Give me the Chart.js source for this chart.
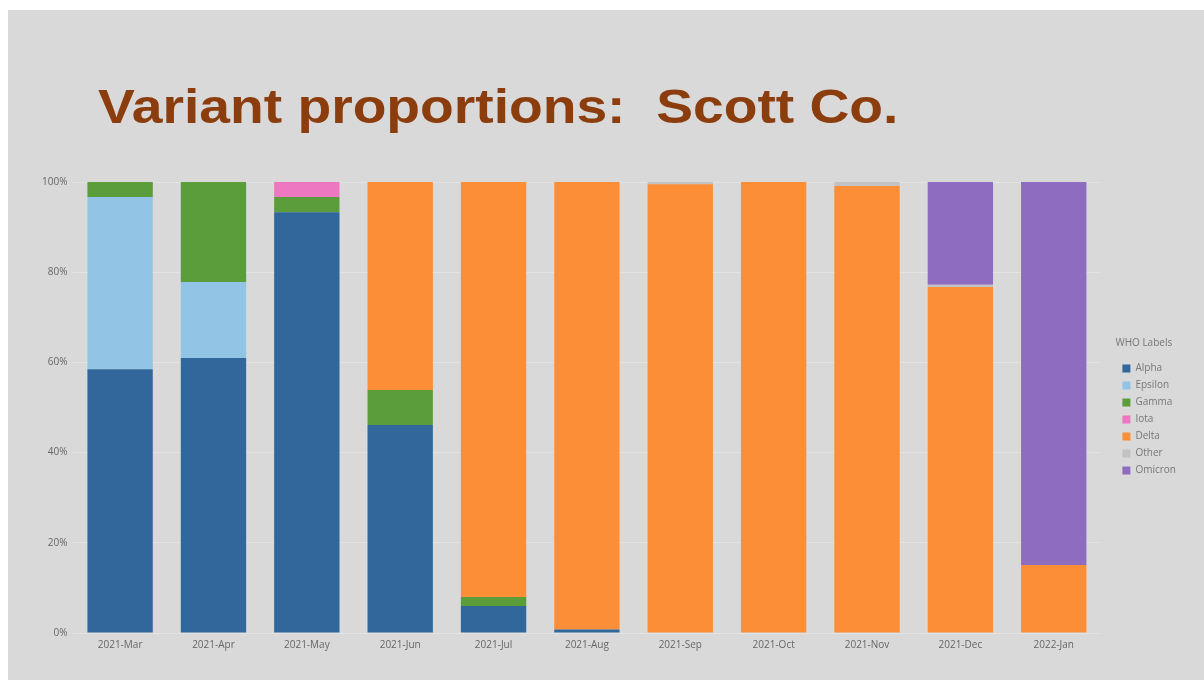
<!DOCTYPE html>
<html>
<head>
<meta charset="utf-8">
<script src="https://cdn.jsdelivr.net/npm/chart.js@4.4.1/dist/chart.umd.min.js"></script>
<style>
  html, body { margin: 0; padding: 0; background: #fff; }
  #slide { position: absolute; left: 8px; top: 10px; width: 1196px; height: 670px; background: #d9d9d9; }
  #titulo {
    position: absolute; left: 98px; top: 79px;
    font: bold 48px "Liberation Sans", Arial, sans-serif;
    color: #8b3d0d; white-space: pre;
    transform: scaleX(1.15); transform-origin: left top;
  }
  #wrap { position: absolute; left: 0; top: 0; width: 1204px; height: 680px; }
</style>
</head>
<body>
<div id="slide"></div>
<div id="titulo">Variant proportions:  Scott Co.</div>
<div id="wrap"><canvas id="grafico"></canvas></div>
<script>
// Meses
const meses = ['2021-Mar', '2021-Apr', '2021-May', '2021-Jun', '2021-Jul', '2021-Aug',
               '2021-Sep', '2021-Oct', '2021-Nov', '2021-Dec', '2022-Jan'];

// Proporções (%) por variante
const alpha   = [58.5, 61.0, 93.3, 46.1, 6.0, 0.8, 0, 0, 0, 0, 0];
const epsilon = [38.2, 16.8, 0, 0, 0, 0, 0, 0, 0, 0, 0];
const gamma   = [3.3, 22.2, 3.4, 7.8, 2.0, 0, 0, 0, 0, 0, 0];
const iota    = [0, 0, 3.3, 0, 0, 0, 0, 0, 0, 0, 0];
const delta   = [0, 0, 0, 46.1, 92.0, 99.2, 99.5, 100, 99.1, 76.7, 15.1];
const other   = [0, 0, 0, 0, 0, 0, 0.5, 0, 0.9, 0.5, 0];
const omicron = [0, 0, 0, 0, 0, 0, 0, 0, 0, 22.8, 84.9];

const yTicks = [0, 20, 40, 60, 80, 100];

const series = [
    { label: 'Alpha',   data: alpha,   cor: '#31679b' },
    { label: 'Epsilon', data: epsilon, cor: '#92c4e6' },
    { label: 'Gamma',   data: gamma,   cor: '#5a9d3a' },
    { label: 'Iota',    data: iota,    cor: '#ee77c2' },
    { label: 'Delta',   data: delta,   cor: '#fb8e36' },
    { label: 'Other',   data: other,   cor: '#c2c2c2' },
    { label: 'Omicron', data: omicron, cor: '#8e6dc0' }
];

// espaço extra entre a área do gráfico e a legenda
const GAP_LEGENDA = 12;
const legendaGap = {
    id: 'legendaGap',
    afterInit(chart) {
        const leg = chart.legend;
        const fitOrig = leg.fit;
        leg.fit = function () {
            fitOrig.call(this);
            this.width += GAP_LEGENDA;
        };
    },
    afterLayout(chart) {
        const leg = chart.legend;
        leg.left += GAP_LEGENDA + 3;
        leg.right += GAP_LEGENDA + 3;
        leg.top -= 9;
        leg.bottom -= 9;
    }
};

const ctx = document.getElementById('grafico').getContext('2d');
new Chart(ctx, {
    type: 'bar',
    data: {
        labels: meses,
        datasets: series.map(s => ({
            label: s.label,
            data: s.data,
            backgroundColor: s.cor,
            borderWidth: 0,
            barPercentage: 0.7,
            categoryPercentage: 1.0
        }))
    },
    plugins: [legendaGap],
    options: {
        responsive: true,
        maintainAspectRatio: false,
        animation: false,
        layout: { padding: { left: 36, right: 21, top: 182, bottom: 23 } },
        plugins: {
            tooltip: { enabled: false },
            legend: {
                position: 'right',
                align: 'center',
                title: {
                    display: true,
                    text: 'WHO Labels',
                    position: 'start',
                    color: '#777',
                    font: { family: 'Open Sans', size: 10 },
                    padding: { top: 0, bottom: 6 }
                },
                labels: {
                    boxWidth: 8,
                    boxHeight: 8,
                    padding: 7,
                    color: '#777',
                    font: { family: 'Open Sans', size: 10 }
                }
            }
        },
        scales: {
            x: {
                stacked: true,
                grid: { display: false, drawTicks: false },
                border: { display: false },
                ticks: { color: '#666', font: { family: 'Open Sans', size: 10 }, padding: 6, maxRotation: 0 }
            },
            y: {
                stacked: true,
                min: 0,
                max: 100,
                afterBuildTicks: axis => { axis.ticks = yTicks.map(v => ({ value: v })); },
                grid: { color: '#e3e3e3', drawTicks: false },
                border: { display: false },
                ticks: {
                    color: '#666',
                    font: { family: 'Open Sans', size: 10 },
                    padding: 6,
                    callback: v => v + '%'
                }
            }
        }
    }
});
</script>
</body>
</html>
